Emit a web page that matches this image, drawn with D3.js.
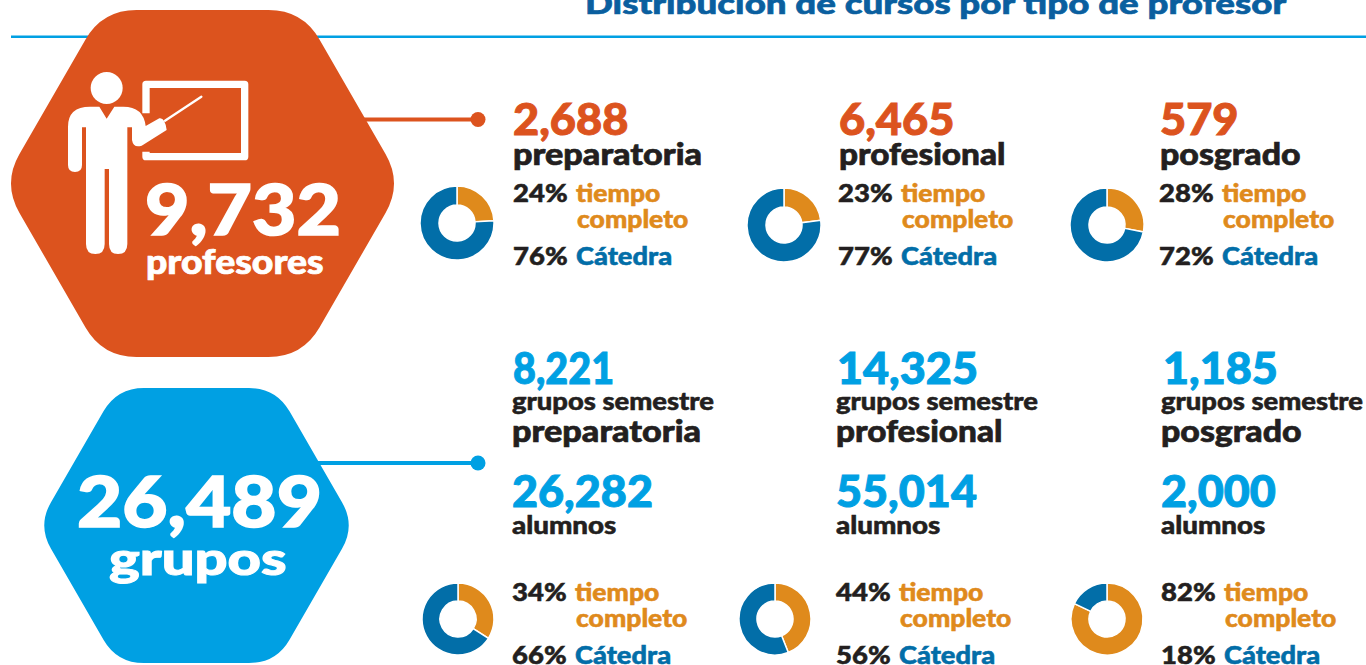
<!DOCTYPE html>
<html>
<head>
<meta charset="utf-8">
<script src="https://cdn.jsdelivr.net/npm/d3@7"></script>
<style>
  html, body { margin: 0; padding: 0; background: #fff; overflow: hidden; }
  text { font-family: Lato, "Open Sans", sans-serif; font-weight: 900; }
</style>
</head>
<body>
<div id="chart"></div>
<script>
var levels       = ["preparatoria", "profesional", "posgrado"];
var profesores   = ["2,688", "6,465", "579"];
var grupos       = ["8,221", "14,325", "1,185"];
var alumnos      = ["26,282", "55,014", "2,000"];
var profCompleto = [24, 23, 28];
var profCatedra  = [76, 77, 72];
var grupCompleto = [34, 44, 82];
var grupCatedra  = [66, 56, 18];

var orange = "#dc531e", sky = "#00a0e3", gold = "#df8a1c", navy = "#026ea8", ink = "#231f20";

var width = 1366, height = 665;

var svg = d3.select("#chart").append("svg")
    .attr("width", width)
    .attr("height", height);

// regular hexagon with flat top, corners rounded by quadratic curves
function hexagon(cx, cy, r, h, round) {
  var inset = r * 0.5;
  var pts = [[cx - inset, cy - h], [cx + inset, cy - h], [cx + r, cy], [cx + inset, cy + h], [cx - inset, cy + h], [cx - r, cy]];
  var p = d3.path();
  pts.forEach(function(c, i) {
    var prev = pts[(i + 5) % 6], next = pts[(i + 1) % 6];
    var d1 = Math.hypot(prev[0] - c[0], prev[1] - c[1]), d2 = Math.hypot(next[0] - c[0], next[1] - c[1]);
    var a = [c[0] + (prev[0] - c[0]) * round / d1, c[1] + (prev[1] - c[1]) * round / d1];
    var b = [c[0] + (next[0] - c[0]) * round / d2, c[1] + (next[1] - c[1]) * round / d2];
    if (i == 0) p.moveTo(a[0], a[1]); else p.lineTo(a[0], a[1]);
    p.quadraticCurveTo(c[0], c[1], b[0], b[1]);
  });
  p.closePath();
  return p.toString();
}

// the original face is wider and heavier than Lato, so stretch and thicken a bit
function label(x, y, str, size, color, stretch, anchor) {
  var t = svg.append("text")
    .attr("x", x)
    .attr("y", y)
    .attr("font-size", size)
    .attr("fill", color)
    .attr("stroke", color)
    .attr("stroke-width", size * 0.022)
    .attr("text-anchor", anchor || "start")
    .text(str);
  t.attr("textLength", t.node().getComputedTextLength() * (stretch || 1))
    .attr("lengthAdjust", "spacingAndGlyphs");
  return t;
}

// title and rule
label(585, 14, "Distribución de cursos por tipo de profesor", 29, "#0a5f9f", 1.265);
svg.append("rect").attr("x", 11).attr("y", 35.5).attr("width", width - 11).attr("height", 2.5).attr("fill", sky);

// connectors
svg.append("line").attr("x1", 340).attr("x2", 478).attr("y1", 119.5).attr("y2", 119.5).attr("stroke", orange).attr("stroke-width", 4);
svg.append("circle").attr("cx", 478).attr("cy", 119.5).attr("r", 7.5).attr("fill", orange);
svg.append("line").attr("x1", 300).attr("x2", 478).attr("y1", 463).attr("y2", 463).attr("stroke", sky).attr("stroke-width", 4);
svg.append("circle").attr("cx", 478).attr("cy", 463).attr("r", 7.5).attr("fill", sky);

// hexagons
svg.append("path").attr("d", hexagon(202.5, 183.5, 200, 173.5, 34)).attr("fill", orange);
svg.append("path").attr("d", hexagon(196.5, 525.5, 159, 137.5, 27)).attr("fill", sky);

// teacher icon, drawn in the units of a 3x crop
var icon = svg.append("g").attr("transform", "scale(" + (1 / 3) + ")");
icon.append("circle").attr("cx", 320).attr("cy", 264).attr("r", 48).attr("fill", "#fff");
icon.append("path")
  .attr("d", "M438 340 L438 253 L734 253 L734 470 L438 470 L438 455")
  .attr("fill", "none").attr("stroke", "#fff").attr("stroke-width", 22).attr("stroke-linejoin", "round");
icon.append("path")
  .attr("d", "M495 362 L604 290").attr("stroke", "#fff").attr("stroke-width", 7).attr("stroke-linecap", "round");
icon.append("path")
  .attr("d", "M204 380 Q204 320 270 320 L298 320 L320 356 L343 320 L370 320 Q430 320 437 378 L478 355 Q495 352 500 390 L425 437 Q400 445 396 420 L396 382 L382 382 L382 732 Q382 762 354 762 Q327 762 327 732 L327 507 L314 507 L314 732 Q314 762 286 762 Q258 762 258 732 L258 382 L246 382 L246 495 Q246 516 225 516 Q204 516 204 495 Z")
  .attr("fill", "#fff");

// hexagon texts
label(145, 235, "9,732", 71, "#fff", 1.08);
label(146, 274, "profesores", 34, "#fff", 1.1);
label(77, 527, "26,489", 71, "#fff", 1.1);
label(109, 575, "grupos", 46, "#fff", 1.26);

var pie = d3.pie().sort(null);

function donut(cx, cy, outer, inner, completo, catedra) {
  var arc = d3.arc().innerRadius(inner).outerRadius(outer);
  svg.append("g")
    .attr("transform", "translate(" + cx + "," + cy + ")")
    .selectAll("path")
    .data(pie([completo, catedra]))
    .enter().append("path")
    .attr("d", arc)
    .attr("fill", function(d, i) { return i == 0 ? gold : navy; })
    .attr("stroke", "#fff")
    .attr("stroke-width", 1.5);
}

function split(x, yTop, completo, catedra) {
  label(x, yTop + 1, completo + "%", 25, ink, 1.1);
  label(x + 63, yTop + 1, "tiempo", 25, gold, 1.06);
  label(x + 64, yTop + 27, "completo", 25, gold, 1.06);
  label(x, yTop + 64, catedra + "%", 25, ink, 1.1);
  label(x + 63, yTop + 64, "Cátedra", 25, navy, 1.09);
}

// upper block: professors
var upperX = [513, 839, 1160];
var upperDonut = [457, 784, 1107];
var levelFit = [1.14, 1.11, 1.13];
levels.forEach(function(level, i) {
  label(upperX[i], 135, profesores[i], 43, orange, 1.05);
  label(upperX[i], 165, level, 30, ink, levelFit[i]);
  split(i == 0 ? 513 : upperX[i] - 1, 201, profCompleto[i], profCatedra[i]);
  donut(upperDonut[i], i == 0 ? 223 : 225, 37, 18, profCompleto[i], profCatedra[i]);
});

// lower block: groups
var lowerX = [512, 836, 1161];
var lowerDonut = [458, 775, 1107];
var grupoFit = [0.92, 1.045, 1.045];
levels.forEach(function(level, i) {
  label(lowerX[i] + (i == 2 ? 2 : 1), 384, grupos[i], 43, sky, grupoFit[i]);
  label(lowerX[i], 410, "grupos semestre", 24, ink, 1.14);
  label(lowerX[i], 442, level, 30, ink, levelFit[i]);
  label(lowerX[i], 507, alumnos[i], 43, sky, 1.045);
  label(lowerX[i], 534, "alumnos", 24, ink, 1.155);
  split(lowerX[i], 600, grupCompleto[i], grupCatedra[i]);
  donut(lowerDonut[i], 619, 36, 18, grupCompleto[i], grupCatedra[i]);
});
</script>
</body>
</html>
